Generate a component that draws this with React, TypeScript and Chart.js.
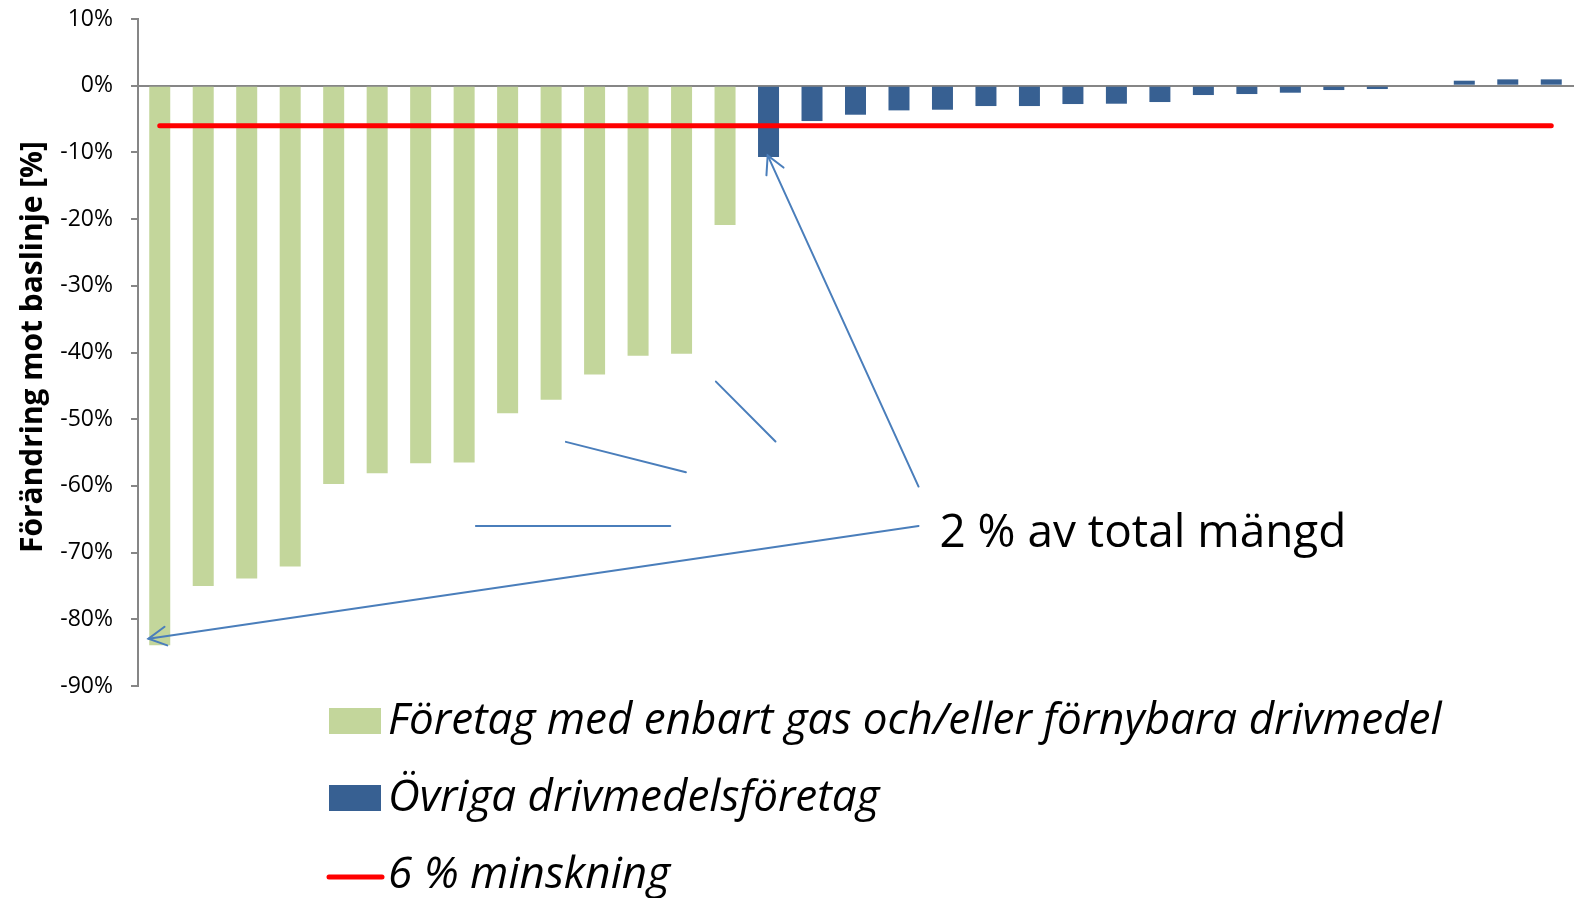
import React, { useEffect, useRef } from 'react';
import { Chart, registerables } from 'chart.js';

Chart.register(...registerables);

const categories = [
  '1', '2', '3', '4', '5', '6', '7', '8', '9', '10', '11', '12', '13', '14', '15', '16', '17',
  '18', '19', '20', '21', '22', '23', '24', '25', '26', '27', '28', '29', '30', '31', '32', '33',
];

const greenLabel = 'Företag med enbart gas och/eller förnybara drivmedel';
const blueLabel = 'Övriga drivmedelsföretag';
const redLabel = '6 % minskning';

const greenValues = [
  -83.9, -75.0, -73.9, -72.1, -59.7, -58.1, -56.6, -56.5, -49.1, -47.1, -43.3, -40.5, -40.2, -20.9,
  null, null, null, null, null, null, null, null, null, null, null, null, null, null, null, null, null, null, null,
];

const blueValues = [
  null, null, null, null, null, null, null, null, null, null, null, null, null, null,
  -10.7, -5.3, -4.35, -3.7, -3.6, -3.05, -3.05, -2.75, -2.7, -2.45, -1.4, -1.25, -1.05, -0.65, -0.5, 0, 0.75, 0.95, 0.95,
];

const targetValues = [
  -6, -6, -6, -6, -6, -6, -6, -6, -6, -6, -6, -6, -6, -6, -6, -6, -6,
  -6, -6, -6, -6, -6, -6, -6, -6, -6, -6, -6, -6, -6, -6, -6, -6,
];

const yTicks = [10, 0, -10, -20, -30, -40, -50, -60, -70, -80, -90];

const yTitle = 'Förändring mot baslinje [%]';
const noteText = '2 % av total mängd';

// annotation anchors in data space: [categoryIndex, value]
const noteAnchor = [17.93, -69.15];
const arrowSegments = [
  { from: [17.45, -66.0], to: [-0.26, -82.9], head: true },
  { from: [17.45, -60.1], to: [13.98, -10.45], head: true },
  { from: [7.27, -66.0], to: [11.74, -66.0], head: false },
  { from: [9.34, -53.4], to: [12.1, -57.95], head: false },
  { from: [12.79, -44.36], to: [14.16, -53.35], head: false },
];

const GREEN = '#c3d69b';
const BLUE = '#376092';
const RED = '#ff0000';
const AXIS = '#868686';
const NOTE = '#4a7ebb';
const FONT = '"Open Sans", "Noto Sans", sans-serif';

function fitSize(ctx: CanvasRenderingContext2D, text: string, style: string, target: number) {
  ctx.font = `${style} 100px ${FONT}`;
  const w = ctx.measureText(text).width;
  return (100 * target) / w;
}

const overlayPlugin = {
  id: 'overlay',
  afterDatasetsDraw(chart: any) {
    const { ctx, scales } = chart;
    const xs = scales.x;
    const ys = scales.y;
    ctx.save();
    ctx.strokeStyle = NOTE;
    ctx.lineWidth = 2;
    ctx.lineCap = 'round';
    for (const seg of arrowSegments) {
      const x0 = xs.getPixelForValue(seg.from[0]);
      const y0 = ys.getPixelForValue(seg.from[1]);
      const x1 = xs.getPixelForValue(seg.to[0]);
      const y1 = ys.getPixelForValue(seg.to[1]);
      ctx.beginPath();
      ctx.moveTo(x0, y0);
      ctx.lineTo(x1, y1);
      ctx.stroke();
      if (seg.head) {
        const ang = Math.atan2(y0 - y1, x0 - x1);
        const len = 20;
        const spread = (28 * Math.PI) / 180;
        ctx.beginPath();
        ctx.moveTo(x1 + len * Math.cos(ang - spread), y1 + len * Math.sin(ang - spread));
        ctx.lineTo(x1, y1);
        ctx.lineTo(x1 + len * Math.cos(ang + spread), y1 + len * Math.sin(ang + spread));
        ctx.stroke();
      }
    }
    // note text
    const nsize = fitSize(ctx, noteText, 'normal', 407);
    ctx.font = `normal ${nsize}px ${FONT}`;
    ctx.fillStyle = '#000';
    ctx.textAlign = 'left';
    ctx.textBaseline = 'alphabetic';
    ctx.fillText(noteText, xs.getPixelForValue(noteAnchor[0]), ys.getPixelForValue(noteAnchor[1]));
    ctx.restore();
  },
  afterDraw(chart: any) {
    const { ctx } = chart;
    ctx.save();
    // y-axis title
    const tsize = fitSize(ctx, yTitle, 'bold', 412);
    ctx.font = `bold ${tsize}px ${FONT}`;
    ctx.fillStyle = '#000';
    ctx.translate(42, 347);
    ctx.rotate(-Math.PI / 2);
    ctx.textAlign = 'center';
    ctx.textBaseline = 'alphabetic';
    ctx.fillText(yTitle, 0, 0);
    ctx.restore();

    // legend
    ctx.save();
    const ds = chart.data.datasets;
    const lsize = fitSize(ctx, ds[0].label, 'italic', 1054);
    ctx.font = `italic ${lsize}px ${FONT}`;
    ctx.fillStyle = '#000';
    ctx.textAlign = 'left';
    ctx.textBaseline = 'alphabetic';
    const baseY = 734;
    const step = 77;
    const boxX = 329;
    const textX = 388;
    ds.forEach((d: any, i: number) => {
      const by = baseY + i * step;
      if (d.type === 'line') {
        ctx.strokeStyle = d.borderColor;
        ctx.lineWidth = 5;
        ctx.lineCap = 'round';
        ctx.beginPath();
        ctx.moveTo(boxX, by - 11);
        ctx.lineTo(boxX + 53, by - 11);
        ctx.stroke();
      } else {
        ctx.fillStyle = d.backgroundColor;
        ctx.fillRect(boxX, by - 26, 52, 26);
      }
      ctx.fillStyle = '#000';
      ctx.fillText(d.label, textX, by);
    });
    ctx.restore();
  },
};

export default function App() {
  const ref = useRef<HTMLCanvasElement | null>(null);

  useEffect(() => {
    document.body.style.margin = '0';
    const canvas = ref.current;
    if (!canvas) return;
    const chart = new Chart(canvas, {
      type: 'bar',
      data: {
        labels: categories,
        datasets: [
          {
            type: 'bar',
            label: greenLabel,
            data: greenValues as any,
            backgroundColor: GREEN,
            borderWidth: 0,
            barPercentage: 0.483,
            categoryPercentage: 1,
            order: 1,
          },
          {
            type: 'bar',
            label: blueLabel,
            data: blueValues as any,
            backgroundColor: BLUE,
            borderWidth: 0,
            barPercentage: 0.483,
            categoryPercentage: 1,
            order: 1,
          },
          {
            type: 'line',
            label: redLabel,
            data: targetValues,
            borderColor: RED,
            backgroundColor: RED,
            borderWidth: 5,
            borderCapStyle: 'round',
            pointRadius: 0,
            fill: false,
            order: 0,
          } as any,
        ],
      },
      options: {
        animation: false,
        responsive: true,
        maintainAspectRatio: false,
        layout: { padding: { top: 19, right: 2, bottom: 212, left: 0 } },
        plugins: {
          legend: { display: false },
          tooltip: { enabled: false },
          title: { display: false },
        },
        scales: {
          x: {
            type: 'category',
            stacked: true,
            position: { y: 0 } as any,
            offset: true,
            grid: { display: false },
            border: { display: true, color: AXIS, width: 2 },
            ticks: { display: false },
          },
          y: {
            min: -90,
            max: 10,
            afterFit: (scale: any) => {
              scale.width = 138;
              scale.paddingTop = 0;
              scale.paddingBottom = 0;
            },
            afterBuildTicks: (scale: any) => {
              scale.ticks = yTicks.map((v) => ({ value: v }));
            },
            grid: {
              drawOnChartArea: false,
              drawTicks: true,
              tickLength: 7,
              color: AXIS,
              lineWidth: 2,
            },
            border: { display: true, color: AXIS, width: 2 },
            ticks: {
              padding: 18,
              color: '#000',
              font: { family: FONT, size: 23 },
              callback: (v: any) => `${v}%`,
            },
          },
        },
      },
      plugins: [overlayPlugin],
    });
    return () => chart.destroy();
  }, []);

  return (
    <div style={{ position: 'fixed', left: 0, top: 0, width: '1575px', height: '898px', background: '#fff' }}>
      <canvas ref={ref} />
    </div>
  );
}
